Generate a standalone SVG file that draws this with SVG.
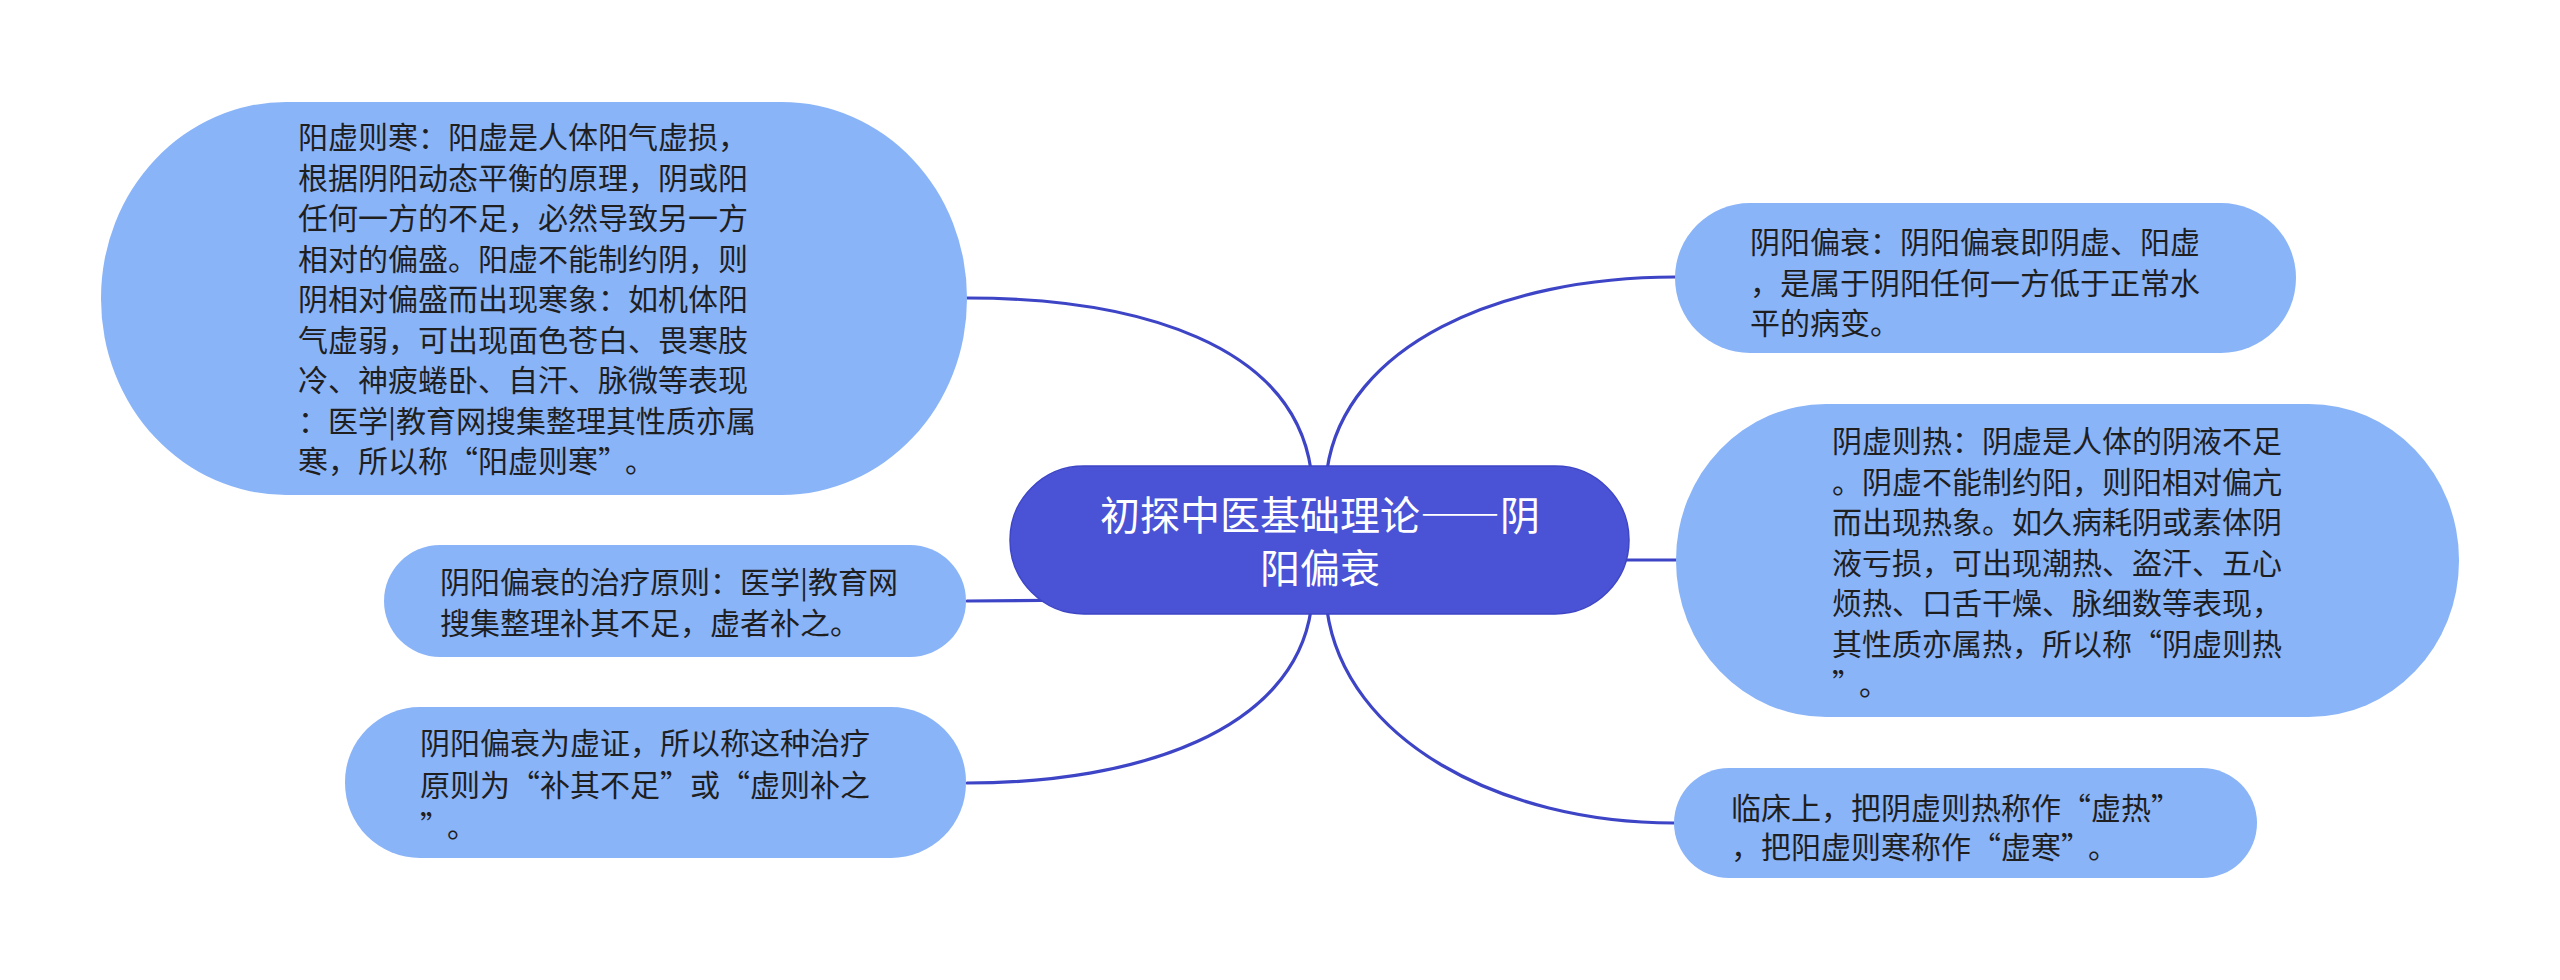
<svg xmlns="http://www.w3.org/2000/svg" width="2560" height="980" viewBox="0 0 2560 980">
<style>
.bg{fill:#ffffff}
.leaf{fill:#8AB4F8}
.root{fill:#4A52D6;stroke:#3E46C6;stroke-width:1.5}
.conn{fill:none;stroke:#3D45C6;stroke-width:3.2;stroke-linecap:round}
.t{font-family:"Noto Sans CJK SC","Noto Sans",sans-serif;font-size:30px;fill:#1f1f1f;font-feature-settings:"fwid" 1}
.rt{font-family:"Noto Sans CJK SC","Noto Sans",sans-serif;font-size:40px;fill:#ffffff;text-anchor:middle;font-feature-settings:"fwid" 1}
.n{font-feature-settings:normal}
</style>
<rect class="bg" x="0" y="0" width="2560" height="980"/>
<g id="connectors">
<path class="conn" d="M967 298 C1140 298 1293 345 1311 470"/>
<path class="conn" d="M967 601 L1090 600"/>
<path class="conn" d="M1311 610 C1293 730 1140 783 967 783"/>
<path class="conn" d="M1327 470 C1345 345 1500 277 1675 277"/>
<path class="conn" d="M1560 560 L1676 560"/>
<path class="conn" d="M1327 610 C1345 740 1500 823 1674 823"/>
</g>
<g id="root">
<rect class="root" x="1010" y="466" width="619" height="148" rx="74" ry="74"/>
<text class="rt"><tspan x="1320" y="530">初探中医基础理论——阴</tspan><tspan x="1320" y="583">阳偏衰</tspan></text>
</g>
<g id="node-yangxu">
<rect class="leaf" x="101" y="102" width="866" height="393" rx="185" ry="196"/>
<text class="t">
<tspan x="298" y="148">阳虚则寒：阳虚是人体阳气虚损，</tspan>
<tspan x="298" y="188.5">根据阴阳动态平衡的原理，阴或阳</tspan>
<tspan x="298" y="229">任何一方的不足，必然导致另一方</tspan>
<tspan x="298" y="269.5">相对的偏盛。阳虚不能制约阴，则</tspan>
<tspan x="298" y="310">阴相对偏盛而出现寒象：如机体阳</tspan>
<tspan x="298" y="350.5">气虚弱，可出现面色苍白、畏寒肢</tspan>
<tspan x="298" y="391">冷、神疲蜷卧、自汗、脉微等表现</tspan>
<tspan x="298" y="431.5">：医学<tspan class="n">|</tspan>教育网搜集整理其性质亦属</tspan>
<tspan x="298" y="472">寒，所以称“阳虚则寒”<tspan dx="12">。</tspan></tspan>
</text>
</g>
<g id="node-zhiliao">
<rect class="leaf" x="384" y="545" width="582" height="112" rx="56" ry="56"/>
<text class="t">
<tspan x="440" y="593">阴阳偏衰的治疗原则：医学<tspan class="n">|</tspan>教育网</tspan>
<tspan x="440" y="634">搜集整理补其不足，虚者补之。</tspan>
</text>
</g>
<g id="node-xuzheng">
<rect class="leaf" x="345" y="707" width="621" height="151" rx="75" ry="75"/>
<text class="t">
<tspan x="420" y="754">阴阳偏衰为虚证，所以称这种治疗</tspan>
<tspan x="420" y="796">原则为“补其不足”或“虚则补之</tspan>
<tspan x="420" y="837">”<tspan dx="12">。</tspan></tspan>
</text>
</g>
<g id="node-pianshuai">
<rect class="leaf" x="1675" y="203" width="621" height="150" rx="75" ry="75"/>
<text class="t">
<tspan x="1750" y="253">阴阳偏衰：阴阳偏衰即阴虚、阳虚</tspan>
<tspan x="1750" y="294">，是属于阴阳任何一方低于正常水</tspan>
<tspan x="1750" y="334">平的病变。</tspan>
</text>
</g>
<g id="node-yinxu">
<rect class="leaf" x="1676" y="404" width="783" height="313" rx="150" ry="156"/>
<text class="t">
<tspan x="1832" y="452">阴虚则热：阴虚是人体的阴液不足</tspan>
<tspan x="1832" y="492.5">。阴虚不能制约阳，则阳相对偏亢</tspan>
<tspan x="1832" y="533">而出现热象。如久病耗阴或素体阴</tspan>
<tspan x="1832" y="573.5">液亏损，可出现潮热、盗汗、五心</tspan>
<tspan x="1832" y="614">烦热、口舌干燥、脉细数等表现，</tspan>
<tspan x="1832" y="654.5">其性质亦属热，所以称“阴虚则热</tspan>
<tspan x="1832" y="695">”<tspan dx="12">。</tspan></tspan>
</text>
</g>
<g id="node-linchuang">
<rect class="leaf" x="1674" y="768" width="583" height="110" rx="55" ry="55"/>
<text class="t">
<tspan x="1731" y="819">临床上，把阴虚则热称作“虚热”</tspan>
<tspan x="1731" y="858">，把阳虚则寒称作“虚寒”<tspan dx="12">。</tspan></tspan>
</text>
</g>
</svg>
